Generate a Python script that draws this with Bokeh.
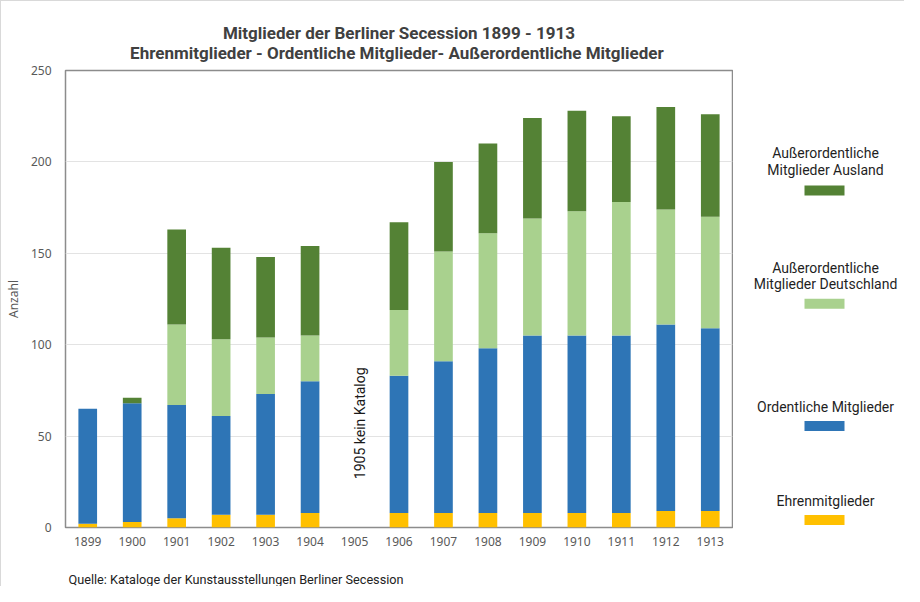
from math import pi
from bokeh.plotting import figure
from bokeh.models import Range1d, FactorRange, Title, ColumnDataSource
from bokeh.layouts import row
from bokeh.core.properties import value
from bokeh.embed import file_html
from bokeh.resources import INLINE

# ---------------- data ----------------
years = ["1899", "1900", "1901", "1902", "1903", "1904", "1905", "1906",
         "1907", "1908", "1909", "1910", "1911", "1912", "1913"]
ehren = [2, 3, 5, 7, 7, 8, 0, 8, 8, 8, 8, 8, 8, 9, 9]
ordentliche = [63, 65, 62, 54, 66, 72, 0, 75, 83, 90, 97, 97, 97, 102, 100]
ao_deutschland = [0, 0, 44, 42, 31, 25, 0, 36, 60, 63, 64, 68, 73, 63, 61]
ao_ausland = [0, 3, 52, 50, 44, 49, 0, 48, 49, 49, 55, 55, 47, 56, 56]
y_ticks = [0, 50, 100, 150, 200, 250]

series_keys = ["ehren", "ordentliche", "ao_deutschland", "ao_ausland"]
series_colors = ["#FFC000", "#2E75B6", "#A9D18E", "#548235"]

legend_line1 = ["Außerordentliche", "Außerordentliche", "Ordentliche Mitglieder", "Ehrenmitglieder"]
legend_line2 = ["Mitglieder Ausland", "Mitglieder Deutschland", "", ""]
legend_colors = ["#548235", "#A9D18E", "#2E75B6", "#FFC000"]

title1 = "Mitglieder der Berliner Secession 1899 - 1913"
title2 = "Ehrenmitglieder - Ordentliche Mitglieder- Außerordentliche  Mitglieder"
source_note = "Quelle: Kataloge der Kunstausstellungen Berliner Secession"
note_year = ["1905"]
note_y = [57]
note_text = ["1905 kein Katalog"]

# ---------------- layout constants (page pixels) ----------------
H = 585
TOP_BORDER = 69
BOTTOM_BORDER = 59
MAIN_W = 732
LEG_W = 171

# ---------------- main chart ----------------
src = ColumnDataSource(dict(year=years, ehren=ehren, ordentliche=ordentliche,
                            ao_deutschland=ao_deutschland, ao_ausland=ao_ausland))

p = figure(x_range=FactorRange(*years), y_range=Range1d(0, 250),
           width=MAIN_W, height=H, title=None,
           output_backend="svg", toolbar_location=None,
           min_border_left=62, min_border_right=1,
           min_border_top=TOP_BORDER, min_border_bottom=BOTTOM_BORDER)

p.vbar_stack(series_keys, x="year", width=0.42, color=series_colors,
             line_color=None, source=src)

p.text(x=note_year, y=note_y, text=note_text, angle=pi / 2,
       text_align="center", text_baseline="middle", x_offset=5,
       text_font=value("Roboto"), text_font_size="14px", text_color="#1a1a1a")

p.outline_line_color = "#8c8c8c"
p.outline_line_width = 1.5
p.xgrid.grid_line_color = None
p.ygrid.grid_line_color = "#e3e3e3"
p.ygrid.grid_line_width = 1

p.yaxis.ticker = y_ticks
p.yaxis.axis_label = "Anzahl"
p.yaxis.axis_label_text_font_style = "normal"
p.yaxis.axis_label_text_font = "Noto Sans"
p.yaxis.axis_label_text_font_size = "12px"
p.yaxis.axis_label_text_color = "#595959"
p.yaxis.axis_label_standoff = 6
for ax in (p.xaxis, p.yaxis):
    ax.axis_line_color = None
    ax.major_tick_line_color = None
    ax.minor_tick_line_color = None
    ax.major_tick_out = 0
    ax.major_tick_in = 0
    ax.minor_tick_out = 0
    ax.minor_tick_in = 0
    ax.major_label_text_font = "Noto Sans"
    ax.major_label_text_font_size = "12px"
    ax.major_label_text_color = "#595959"
p.yaxis.major_label_standoff = 14
p.xaxis.major_label_standoff = 9

t_main = Title(text=title1 + "\n" + title2, align="center", text_align="center",
               text_font="Roboto", text_font_size="17px",
               text_font_style="bold", text_color="#404040", standoff=16)
p.add_layout(t_main, "above")

ts = Title(text="\n" + source_note, align="left", text_font="Roboto", text_font_size="12.7px",
           text_font_style="normal", text_color="#222222", offset=3, standoff=0,
           text_line_height=1.4)
p.add_layout(ts, "below")

# ---------------- legend panel (coordinates = page pixels) ----------------
leg = figure(width=LEG_W, height=H,
             x_range=Range1d(741, 741 + LEG_W), y_range=Range1d(535, 78),
             output_backend="svg", toolbar_location=None,
             min_border_left=0, min_border_right=0,
             min_border_top=TOP_BORDER, min_border_bottom=BOTTOM_BORDER,
             x_axis_type=None, y_axis_type=None, outline_line_color=None)
leg.grid.visible = False

cx = 833
first_line_py = [160.7, 275.3, 414, 508]
swatch_py = [198, 311.3, 433.5, 527.5]
leg.rect(x=[cx - 1] * 4, y=swatch_py, width=40, height=10, color=legend_colors, line_color=None)
leg.text(x=[cx] * 4, y=first_line_py, text=legend_line1, text_align="center",
         text_baseline="middle", text_font=value("Roboto"), text_font_size="14px",
         text_color="#1f1f1f")
leg.text(x=[cx] * 4, y=[v + 16.5 for v in first_line_py], text=legend_line2, text_align="center",
         text_baseline="middle", text_font=value("Roboto"), text_font_size="14px",
         text_color="#1f1f1f")

layout = row(p, leg, styles={"border-top": "1px solid #d9d9d9",
                             "border-left": "1px solid #d9d9d9"})

open("out.html", "w").write(file_html(layout, INLINE))
